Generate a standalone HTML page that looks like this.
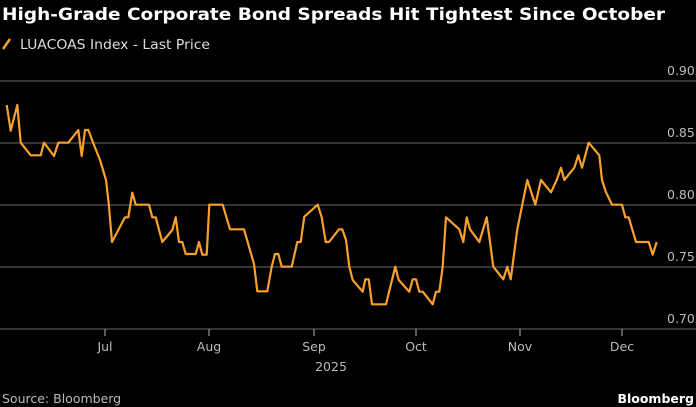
<!DOCTYPE html>
<html><head><meta charset="utf-8"><style>html,body{margin:0;padding:0;background:#000;width:696px;height:407px;overflow:hidden}</style></head>
<body>
<svg width="696" height="407" viewBox="0 0 696 407" xmlns="http://www.w3.org/2000/svg" style="display:block">
<rect width="696" height="407" fill="#000"/>
<text x="2" y="20" fill="#fff" font-family="DejaVu Sans, Liberation Sans, sans-serif" font-weight="bold" font-size="17" textLength="663" lengthAdjust="spacingAndGlyphs">High-Grade Corporate Bond Spreads Hit Tightest Since October</text>
<line x1="3" y1="49" x2="10" y2="39" stroke="#f7a12c" stroke-width="2.5"/>
<text x="20" y="49" fill="#ddd" font-family="DejaVu Sans, Liberation Sans, sans-serif" font-size="13" textLength="190" lengthAdjust="spacingAndGlyphs">LUACOAS Index - Last Price</text>
<g stroke="#555" stroke-width="1.3">
<line x1="0" y1="81" x2="696" y2="81"/><line x1="0" y1="143" x2="696" y2="143"/><line x1="0" y1="205" x2="696" y2="205"/><line x1="0" y1="267" x2="696" y2="267"/><line x1="0" y1="329" x2="696" y2="329"/>
</g>
<g stroke="#999" stroke-width="1.2">
<line x1="105" y1="329" x2="105" y2="336"/><line x1="209" y1="329" x2="209" y2="336"/><line x1="314" y1="329" x2="314" y2="336"/><line x1="416" y1="329" x2="416" y2="336"/><line x1="520" y1="329" x2="520" y2="336"/><line x1="622" y1="329" x2="622" y2="336"/>
</g>
<g fill="#bbb" font-family="DejaVu Sans, Liberation Sans, sans-serif" font-size="12.5">
<text x="667" y="75">0.90</text><text x="667" y="137">0.85</text><text x="667" y="199">0.80</text><text x="667" y="261">0.75</text><text x="667" y="323">0.70</text>
</g>
<g fill="#bbb" font-family="DejaVu Sans, Liberation Sans, sans-serif" font-size="12.5" text-anchor="middle">
<text x="105" y="351">Jul</text><text x="209" y="351">Aug</text><text x="314" y="351">Sep</text><text x="416" y="351">Oct</text><text x="520" y="351">Nov</text><text x="622" y="351">Dec</text><text x="331" y="371">2025</text>
</g>
<polyline fill="none" stroke="#f7a12c" stroke-width="2.2" stroke-linejoin="round" points="6.7,105 10.7,130.7 17.3,105 20.7,142.7 30.7,155.3 40.7,155.3 44,142.7 54,156 58.3,142.7 68.3,142.7 78.3,130 81.7,156 85,130 88.3,130 93.3,143.3 100,160 106,180 108.7,203.3 112,242 125,217.3 128.3,217.3 132.3,192.7 135.7,204.7 149,204.7 152.3,217.3 155.7,217.3 162.3,242 172.3,230 175.7,217.3 179,242 182.3,242 185.7,254 195.7,254 199,242 202.3,254.7 206.7,254.7 209.3,204.7 222.7,204.7 230,229.3 244,229.3 254,264 257.3,291.3 267.3,291.3 271.7,266.7 275,254 278.3,254 281.7,266.7 291.7,266.7 297.3,242 300.7,242 304.3,216.7 317.7,204.7 321.7,217.3 325.7,242 329,242 339,229.3 342.3,229.3 346,240 349.3,266.7 352.7,280 362.7,291.7 365.3,279.3 368.7,279.3 372,304.3 386,304.3 395.3,266.7 398.7,280 409.3,291.7 412.7,279.3 416,279.3 419.3,291.7 422.7,291.7 432.7,304.3 436,291.7 439.3,291.7 442.7,266.7 446,217.3 459.3,229.3 463.3,242 466.7,217.3 470,229.3 479.3,242 486.7,217.3 493.3,266.7 503.3,279.3 507.3,266.7 510.7,279.3 517.3,229.3 527.3,180 535.3,204.7 541,180 551,192.3 556.7,180 561,167.7 564.3,180 574.3,167.7 578.3,155.3 582,167.7 588.7,142.7 599.3,155.3 602,180 606,192.3 612,204.7 622,204.7 625.3,217.3 628.7,217.3 636,242 648.7,242 652.7,254.7 656.7,242"/>
<text x="2" y="403" fill="#bbb" font-family="DejaVu Sans, Liberation Sans, sans-serif" font-size="12.5">Source: Bloomberg</text>
<text x="694" y="403" fill="#fff" font-family="DejaVu Sans, Liberation Sans, sans-serif" font-weight="bold" font-size="12.5" text-anchor="end">Bloomberg</text>
</svg>
</body></html>
